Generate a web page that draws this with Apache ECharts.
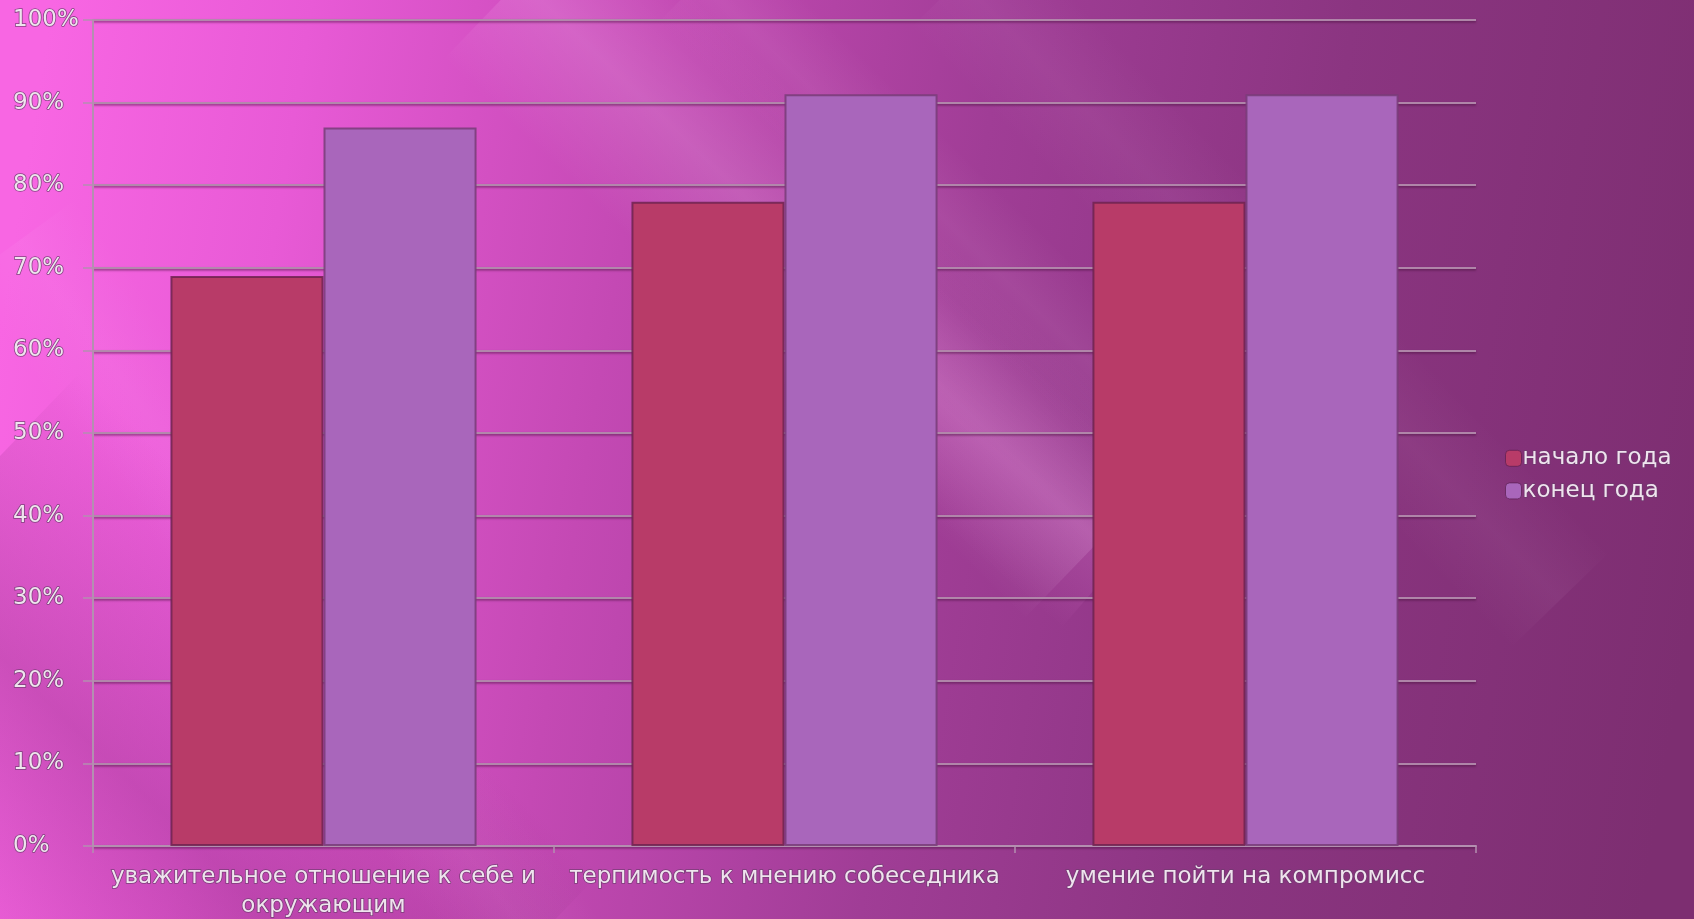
<!DOCTYPE html>
<html><head><meta charset="utf-8">
<script src="https://cdn.jsdelivr.net/npm/echarts@6/dist/echarts.min.js"></script>
<style>html,body{margin:0;padding:0;overflow:hidden}#c{width:1694px;height:919px}</style>
</head><body><div id="c"></div>
<script>
const categories = ['уважительное отношение к себе и окружающим', 'терпимость к мнению собеседника', 'умение пойти на компромисс'];
const seriesNames = ['начало года', 'конец года'];
const startYear = [69, 78, 78];
const endYear = [87, 91, 91];
const yTicks = { min: 0, max: 100, interval: 10 };

const chart = echarts.init(document.getElementById('c'));
const txt = { color: '#efe4ee', textBorderColor: 'rgba(110,60,110,0.85)', textBorderWidth: 1.6, fontFamily: 'DejaVu Sans', fontSize: 23 };

function wrapLabel(s) {
  if (s.length <= 34) return s;
  const cut = s.lastIndexOf(' ', 32);
  return s.slice(0, cut) + '\n' + s.slice(cut + 1);
}

function band(ax, ay, bx, by, w, rgb, alpha) {
  const dx = bx - ax, dy = by - ay, L = Math.hypot(dx, dy);
  const nx = -dy / L * w, ny = dx / L * w;
  const pts = [[ax - nx, ay - ny], [ax + nx, ay + ny], [bx + nx, by + ny], [bx - nx, by - ny]];
  return {
    type: 'polygon', z: -10, silent: true, shape: { points: pts },
    style: { fill: new echarts.graphic.LinearGradient(ax - nx, ay - ny, ax + nx, ay + ny, [
      { offset: 0, color: 'rgba(' + rgb + ',0)' },
      { offset: 0.5, color: 'rgba(' + rgb + ',' + alpha + ')' },
      { offset: 1, color: 'rgba(' + rgb + ',0)' }
    ], true) }
  };
}

chart.setOption({
  backgroundColor: new echarts.graphic.LinearGradient(0, 0.35, 1, 0.65, [
    { offset: 0, color: '#f866e3' },
    { offset: 0.15, color: '#e85ad6' },
    { offset: 0.35, color: '#c449b4' },
    { offset: 0.55, color: '#a03d96' },
    { offset: 0.75, color: '#8b3581' },
    { offset: 1, color: '#7d2e71' }
  ]),
  graphic: [
    band(-100, 560, 420, 1060, 260, '110,30,100', 0.3),
    band(520, -20, 1100, 540, 110, '255,220,255', 0.16),
    band(700, -20, 1200, 470, 60, '255,220,255', 0.08),
    band(820, 300, 1120, 560, 90, '255,150,240', 0.18),
    band(20, 240, 560, 980, 70, '255,220,255', 0.06),
    band(960, -20, 1560, 600, 70, '255,220,255', 0.05)
  ],
  grid: { left: 93, right: 218, top: 20, bottom: 73, containLabel: false, outerBoundsMode: 'none' },
  legend: {
    orient: 'vertical', left: 1500, top: 441,
    itemWidth: 16, itemHeight: 16, itemGap: 8,
    textStyle: Object.assign({}, txt, { fontSize: 23, padding: [0, 0, 0, -4] }),
    itemStyle: { borderColor: 'rgba(90,30,80,0.7)', borderWidth: 1 },
    data: seriesNames
  },
  xAxis: {
    type: 'category', data: categories,
    axisLine: { lineStyle: { color: '#b48fb0', width: 2 } },
    axisTick: { show: true, length: 7, lineStyle: { color: '#b48fb0', width: 1.5 } },
    axisLabel: Object.assign({}, txt, { margin: 17, lineHeight: 29, interval: 0, formatter: wrapLabel }),
    splitLine: { show: false }
  },
  yAxis: {
    type: 'value', min: yTicks.min, max: yTicks.max, interval: yTicks.interval,
    axisLine: { show: true, lineStyle: { color: '#b48fb0', width: 2 } },
    axisTick: { show: true, length: 10, lineStyle: { color: '#b48fb0', width: 1.5 } },
    axisLabel: Object.assign({}, txt, { formatter: '{value}%', align: 'left', margin: 80 }),
    splitLine: { show: true, lineStyle: { color: 'rgba(178,138,172,0.95)', width: 2, shadowColor: 'rgba(70,15,60,0.6)', shadowBlur: 2, shadowOffsetY: 1.5 } }
  },
  series: [
    { name: seriesNames[0], type: 'bar', data: startYear, barGap: '0%', barCategoryGap: '33.6%',
      itemStyle: { color: '#b83b68', borderColor: 'rgba(110,35,80,0.85)', borderWidth: 2 } },
    { name: seriesNames[1], type: 'bar', data: endYear, barGap: '0%', barCategoryGap: '33.6%',
      itemStyle: { color: '#a966bb', borderColor: 'rgba(120,60,120,0.85)', borderWidth: 2 } }
  ],
  animation: false
});
</script></body></html>
